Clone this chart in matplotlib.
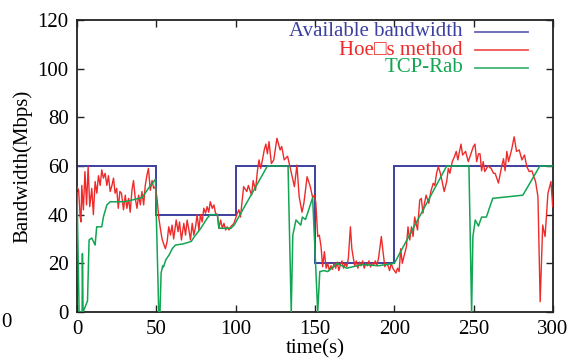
import matplotlib
matplotlib.use('Agg')
import matplotlib.pyplot as plt

# available bandwidth (step)
avail_edges = [0, 50, 100, 150, 200, 300]
avail_levels = [60, 40, 60, 20, 60]

# Hoe's method
hoe_t = [0, 1, 2, 2.5, 3, 4, 5, 6, 7, 8, 9.3, 10.3, 11.4, 12.5, 13.5, 14.6, 15.6, 16.6, 17.7, 18.8,
         19.8, 20.9, 22, 23, 24, 25, 26, 27, 28, 29.3, 30.4, 31.4, 32.5, 33.5, 34.6, 35.6, 36.7, 37.8,
         38.8, 39.9, 40.9, 42, 43, 44, 45, 46.2, 47.3, 48.3, 49.4, 50.4,
         51.5, 52.5, 53.6, 54.6, 55.7, 56.8, 57.8, 58.9, 59.9, 60.9, 62.5, 63.7, 64.6, 65.8, 67.3,
         68.4, 69.4, 70.5, 71.5, 72.6, 73.6, 74.7, 75.7, 76.8, 77.8, 78.9, 79.9, 81, 82, 83, 84,
         85.2, 86.3, 87.3, 88.4, 89.4, 90.5, 91.6, 92.6, 93.7, 94.7, 95.8, 96.8, 98.9, 101, 102,
         103, 105, 107, 108, 110, 111, 112.5, 113.7, 114.7, 115.8, 117, 118, 119, 120, 121, 122.5,
         124, 126, 128, 129, 130.6, 132.7, 134.8, 137, 138.6, 140, 141.8, 143, 145, 147, 148.5, 149.6,
         150.5, 151.7, 152.7, 153.8, 154.8, 155.9, 157, 158, 159, 160, 161, 162, 163, 164, 165, 166,
         167, 168, 169, 170, 171, 172.3, 173.2, 174, 175, 176, 177, 178, 179, 180, 181, 182, 183, 184,
         185, 186, 187, 188, 189, 190, 191, 191.8, 193, 194, 195, 196, 197, 198, 199, 200,
         201, 202, 203, 204, 205, 206, 207.6, 208.6, 209.7, 210.8, 211.8, 212.8, 214.6, 216, 217, 218,
         219, 220, 221.7, 223, 224.5, 225.5, 226.6, 227.7, 228.7, 230, 231.4, 233, 234, 235, 236.5,
         238, 239, 240, 242, 243, 244.9, 246.6, 248, 249.8, 250.8, 251.9, 253, 254, 255, 256, 257,
         259, 261, 262.5, 263.5, 265.6, 266.5, 267.7, 268.8, 269.8, 270.9, 272, 274, 275.5, 277,
         278.7, 280.4, 282, 283.5, 285, 286.7, 287.7, 289, 290.5, 291.9, 293.5, 295, 296.8, 298.7, 299.8]
hoe_v = [51.5, 50, 39, 37, 52, 42, 57.7, 44, 59.7, 43.3, 50.8, 40, 53.6, 48.8, 56, 52, 58.4, 55, 57, 52,
         56, 49.5, 52, 55, 48.8, 50.8, 42.6, 49.5, 48.8, 42, 48, 42.6, 46.7, 41, 50, 54, 46.7, 42.6,
         48, 44, 49.5, 44, 52, 56, 59, 50, 54, 50.8, 51.5, 46.7,
         39, 34.4, 30, 28, 26, 29, 35, 31.6, 35.7, 30, 37.8, 33, 37, 29.6, 36.4,
         31.6, 37.8, 33.7, 29.6, 36.4, 31.6, 35, 40, 33.7, 40, 37, 42.6, 40.6, 43.3, 41, 45.3,
         42.6, 44, 40.6, 40, 34.4, 37.8, 34.4, 36.4, 33.7, 35, 33.7, 35, 36.4, 40.6, 42,
         39, 51.5, 49.5, 52, 48, 54, 50, 58, 62.5, 59, 63, 66.6, 69, 65, 70, 61,
         62.5, 71.4, 66.6, 68, 62.5, 64, 58, 51.5, 60.4, 47.4, 41, 44.8, 55.6, 51.5, 47, 48,
         45, 31, 31.6, 26.8, 18.6, 24.8, 18, 20, 17, 19, 17.5, 20, 18, 20.5, 17, 19.5,
         21, 18, 20, 18.6, 22, 35, 26, 22.7, 19, 21, 18, 20.5, 19, 21, 18, 20, 19, 21,
         18.5, 20, 19.5, 21, 19, 22, 27, 31, 24, 18.6, 20, 19, 17, 20, 18, 17,
         16, 18, 16.6, 26, 20, 22.7, 26.8, 35, 29.6, 35, 31, 39, 33.7, 46, 46.7, 40.6,
         44.7, 48, 44.7, 49.5, 52.9, 52, 57, 59.7, 57.7, 54, 49.5, 53.6, 59, 57, 61.8,
         64, 66, 62.5, 69, 64.5, 66, 61.8, 64.5, 68, 69, 61.8, 65, 65, 58, 61.8, 57.7,
         60, 59, 57, 57, 53, 56, 60, 63, 58, 66, 61.8, 67, 72, 66,
         66.6, 62.5, 64.5, 59.7, 57.7, 58, 56, 53.6, 47.4, 4.2, 35.7, 31, 48.8, 53.6, 43.3]

# TCP-Rab
rab_t = [0, 1.3, 3.2, 3.4, 3.8, 6.6, 7.6, 9.3, 11.4, 12.4, 15.6, 16.6, 18.8, 20.9, 30, 41, 45, 49.4,
         51.5, 52.3, 53, 54, 54.5, 56, 58, 60, 62, 67, 72, 74, 78, 82, 84, 88.5, 89.5, 97, 99, 101,
         120, 133, 135, 136, 138, 141, 142, 144, 148.5, 151.7, 153, 155.7, 158, 164, 170, 180, 190,
         200, 233, 247, 248.7, 249.5, 251, 253, 255, 258, 262, 281, 291.7, 300]
rab_v = [49, 0, 0, 24, 0, 4.5, 29.6, 30.4, 27.5, 35, 35, 39, 44, 45.3, 45.3, 47, 50.8, 54.6,
         0, 0, 16, 19, 18.5, 21.5, 23.4, 26, 27.5, 28, 29, 31, 34.4, 38.5, 40, 40, 34.4, 34.4, 35.7, 38,
         60, 60, 0, 31.6, 37.8, 35.7, 39, 38, 47, 0, 16.6, 17, 16.6, 20, 18, 19.5, 19,
         20, 60, 60, 0, 31, 37.8, 35.3, 39, 39, 46.7, 48, 60, 60]

labels = ['Available bandwidth', 'Hoe\u25a1s method', 'TCP-Rab']
colors = ['#3c40a0', '#ee2a2a', '#12a552']

plt.rcParams['font.family'] = ['Liberation Serif', 'DejaVu Sans']
plt.rcParams['font.size'] = 15

fig = plt.figure(figsize=(5.71, 3.64), dpi=100)
ax = fig.add_axes([0.1349, 0.1429, 0.8336, 0.8022])

ax.stairs(avail_levels, avail_edges, baseline=None, color=colors[0], lw=1.4, zorder=2)
ax.plot(hoe_t, hoe_v, color=colors[1], lw=1.0, zorder=3)
ax.plot(rab_t, rab_v, color=colors[2], lw=1.1, zorder=4)

ax.set_xlim(0, 300)
ax.set_ylim(0, 120)
ax.set_xticks([0, 50, 100, 150, 200, 250, 300])
ax.set_yticks([0, 20, 40, 60, 80, 100, 120])
ax.tick_params(direction='in', top=True, right=True, length=5, width=1, color='#222222',
               labelsize=15, pad=6)
for s in ax.spines.values():
    s.set_linewidth(1.3)
    s.set_color('#222222')
ax.set_xlabel('time(s)', labelpad=0)
ax.set_ylabel('Bandwidth(Mbps)', labelpad=4)

# gnuplot style key
rows = [0.959, 0.897, 0.836]
for lab, c, yy in zip(labels, colors, rows):
    ax.text(0.811, yy, lab, color=c, ha='right', va='center', transform=ax.transAxes, fontsize=15)
    ax.plot([0.836, 0.947], [yy, yy], color=c, lw=1.3, transform=ax.transAxes, alpha=0.8)

# stray label at the left edge, as in the source image
fig.text(0.002, 0.115, '0', ha='left', va='center', fontsize=15)

fig.savefig('out.png', dpi=100)
